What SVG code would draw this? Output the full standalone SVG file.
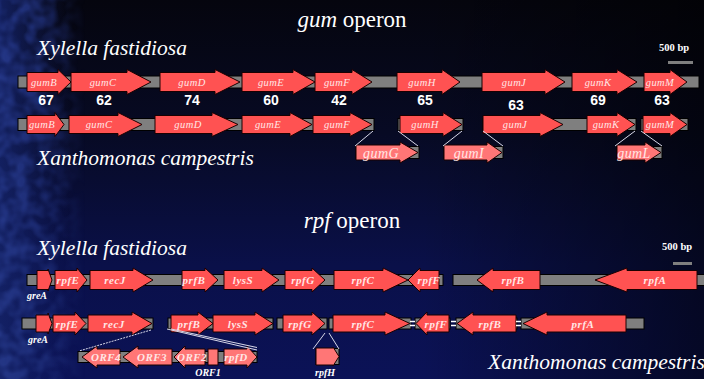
<svg xmlns="http://www.w3.org/2000/svg" width="704" height="379" viewBox="0 0 704 379">
  <defs>
    <linearGradient id="bgV" x1="0" y1="0" x2="0" y2="1">
      <stop offset="0" stop-color="#05050e"/>
      <stop offset="0.35" stop-color="#070a24"/>
      <stop offset="0.7" stop-color="#0a1049"/>
      <stop offset="1" stop-color="#0b1257"/>
    </linearGradient>
    <linearGradient id="bgH" x1="0" y1="0" x2="1" y2="0">
      <stop offset="0" stop-color="#000" stop-opacity="0"/>
      <stop offset="0.6" stop-color="#000" stop-opacity="0"/>
      <stop offset="1" stop-color="#000" stop-opacity="0.55"/>
    </linearGradient>
    <linearGradient id="edgeTint" x1="0" y1="0" x2="1" y2="0">
      <stop offset="0" stop-color="#142266" stop-opacity="0.9"/>
      <stop offset="1" stop-color="#142266" stop-opacity="0"/>
    </linearGradient>
    <linearGradient id="edgeFade" x1="0" y1="0" x2="1" y2="0">
      <stop offset="0" stop-color="#fff" stop-opacity="1"/>
      <stop offset="0.5" stop-color="#fff" stop-opacity="0.65"/>
      <stop offset="1" stop-color="#fff" stop-opacity="0"/>
    </linearGradient>
    <mask id="edgeMask">
      <rect x="0" y="0" width="85" height="379" fill="url(#edgeFade)"/>
    </mask>
    <filter id="grain" x="0" y="0" width="1" height="1" color-interpolation-filters="sRGB">
      <feTurbulence type="fractalNoise" baseFrequency="0.07" numOctaves="2" seed="4"/>
      <feColorMatrix type="matrix" values="0 0 0 0 0.14  0 0 0 0 0.21  0 0 0 0 0.52  0 0 0 2.6 -0.85"/>
    </filter>
  </defs>
  <style>
    .gene { fill: #ff5252; stroke: #1a0000; stroke-width: 1; }
    .ins { fill: #ff7676; stroke: #1a0000; stroke-width: 1; }
    .bar { fill: #7f7f7f; stroke: #000; stroke-width: 1; }
    .lbl { font-family: "Liberation Serif", "Times New Roman", serif; font-style: italic; fill: #ffe6e6; text-anchor: middle; }
    .g { font-size: 10.5px; letter-spacing: 0.4px; }
    .gi { font-size: 14px; letter-spacing: 0.4px; }
    .r { font-size: 11px; font-weight: bold; letter-spacing: 0.5px; }
    .num { font-family: "Liberation Sans", Arial, sans-serif; font-weight: bold; font-size: 14px; fill: #fff; text-anchor: middle; }
    .title { font-family: "Liberation Serif", "Times New Roman", serif; font-size: 23px; fill: #fff; text-anchor: middle; }
    .sp { font-family: "Liberation Serif", "Times New Roman", serif; font-style: italic; font-size: 21.5px; fill: #fff; }
    .bp { font-family: "Liberation Serif", "Times New Roman", serif; font-weight: bold; font-size: 10.5px; fill: #fff; }
    .sub { font-family: "Liberation Serif", "Times New Roman", serif; font-style: italic; font-weight: bold; font-size: 10px; fill: #fff; text-anchor: middle; }
    .link { stroke: #d8d8e8; stroke-width: 1; fill: none; }
    .brk { stroke: #fff; stroke-width: 1.5; }
  </style>

  <!-- backdrop -->
  <rect width="704" height="379" fill="url(#bgV)"/>
  <rect width="704" height="379" fill="url(#bgH)"/>
  <rect x="0" y="0" width="70" height="379" fill="url(#edgeTint)"/>
  <rect x="0" y="0" width="85" height="379" filter="url(#grain)" mask="url(#edgeMask)"/>

  <!-- headings -->
  <text class="title" x="352" y="27"><tspan font-style="italic">gum</tspan> operon</text>
  <text class="title" x="352" y="228"><tspan font-style="italic">rpf</tspan> operon</text>
  <text class="sp" x="37" y="55">Xylella fastidiosa</text>
  <text class="sp" x="37" y="165">Xanthomonas campestris</text>
  <text class="sp" x="37" y="255">Xylella fastidiosa</text>
  <text class="sp" x="488" y="369">Xanthomonas campestris</text>

  <!-- scale bars -->
  <g id="scale-gum">
    <text class="bp" x="659" y="51">500 bp</text>
    <rect x="668" y="61" width="25" height="3" fill="#7f7f7f"/>
  </g>
  <g id="scale-rpf">
    <text class="bp" x="662" y="250">500 bp</text>
    <rect x="673" y="262" width="19" height="3" fill="#7f7f7f"/>
  </g>

  <!-- gum: Xylella row -->
  <g id="gum-xf">
    <rect class="bar" x="18" y="76" width="681" height="12"/>
    <g id="xf-gumB"><polygon class="gene" points="27,72.5 58,72.5 58,69.5 71,82 58,94.5 58,91.5 27,91.5"/><text class="lbl g" x="44" y="85.5">gumB</text></g>
    <g id="xf-gumC"><polygon class="gene" points="71,72.5 127,72.5 127,69.5 151,82 127,94.5 127,91.5 71,91.5"/><text class="lbl g" x="103" y="85.5">gumC</text></g>
    <g id="xf-gumD"><polygon class="gene" points="160,72.5 215,72.5 215,69.5 240,82 215,94.5 215,91.5 160,91.5"/><text class="lbl g" x="192" y="85.5">gumD</text></g>
    <g id="xf-gumE"><polygon class="gene" points="242,72.5 293,72.5 293,69.5 315,82 293,94.5 293,91.5 242,91.5"/><text class="lbl g" x="271" y="85.5">gumE</text></g>
    <g id="xf-gumF"><polygon class="gene" points="315,72.5 352,72.5 352,69.5 372,82 352,94.5 352,91.5 315,91.5"/><text class="lbl g" x="337" y="85.5">gumF</text></g>
    <g id="xf-gumH"><polygon class="gene" points="397,72.5 442,72.5 442,69.5 460,82 442,94.5 442,91.5 397,91.5"/><text class="lbl g" x="422" y="85.5">gumH</text></g>
    <g id="xf-gumJ"><polygon class="gene" points="482,72.5 545,72.5 545,69.5 565,82 545,94.5 545,91.5 482,91.5"/><text class="lbl g" x="514" y="85.5">gumJ</text></g>
    <g id="xf-gumK"><polygon class="gene" points="572,72.5 617,72.5 617,69.5 637,82 617,94.5 617,91.5 572,91.5"/><text class="lbl g" x="598" y="85.5">gumK</text></g>
    <g id="xf-gumM"><polygon class="gene" points="644,72.5 670,72.5 670,69.5 687,82 670,94.5 670,91.5 644,91.5"/><text class="lbl g" x="660" y="85.5">gumM</text></g>
  </g>

  <!-- identity values -->
  <g id="identity">
    <text class="num" x="46" y="105">67</text>
    <text class="num" x="104" y="105">62</text>
    <text class="num" x="192" y="105">74</text>
    <text class="num" x="271" y="105">60</text>
    <text class="num" x="339" y="105">42</text>
    <text class="num" x="425" y="105">65</text>
    <text class="num" x="516" y="110">63</text>
    <text class="num" x="598" y="105">69</text>
    <text class="num" x="662" y="105">63</text>
  </g>

  <!-- gum: Xanthomonas row -->
  <g id="gum-xc">
    <rect class="bar" x="18" y="118.5" width="356" height="12"/>
    <rect class="bar" x="398" y="118.5" width="65" height="12"/>
    <rect class="bar" x="483" y="118.5" width="153" height="12"/>
    <rect class="bar" x="641" y="118.5" width="47" height="12"/>
    <g id="xc-gumB"><polygon class="gene" points="27,115.5 55,115.5 55,112.5 64,124.5 55,136.5 55,133.5 27,133.5"/><text class="lbl g" x="42" y="128">gumB</text></g>
    <g id="xc-gumC"><polygon class="gene" points="69,115.5 118,115.5 118,112.5 142,124.5 118,136.5 118,133.5 69,133.5"/><text class="lbl g" x="99" y="128">gumC</text></g>
    <g id="xc-gumD"><polygon class="gene" points="155,115.5 212,115.5 212,112.5 238,124.5 212,136.5 212,133.5 155,133.5"/><text class="lbl g" x="188" y="128">gumD</text></g>
    <g id="xc-gumE"><polygon class="gene" points="242,115.5 290,115.5 290,112.5 312,124.5 290,136.5 290,133.5 242,133.5"/><text class="lbl g" x="268" y="128">gumE</text></g>
    <g id="xc-gumF"><polygon class="gene" points="313,115.5 350,115.5 350,112.5 372,124.5 350,136.5 350,133.5 313,133.5"/><text class="lbl g" x="337" y="128">gumF</text></g>
    <g id="xc-gumH"><polygon class="gene" points="400,115.5 443,115.5 443,112.5 462,124.5 443,136.5 443,133.5 400,133.5"/><text class="lbl g" x="425" y="128">gumH</text></g>
    <g id="xc-gumJ"><polygon class="gene" points="483,115.5 540,115.5 540,112.5 563,124.5 540,136.5 540,133.5 483,133.5"/><text class="lbl g" x="515" y="128">gumJ</text></g>
    <g id="xc-gumK"><polygon class="gene" points="587,115.5 617,115.5 617,112.5 635,124.5 617,136.5 617,133.5 587,133.5"/><text class="lbl g" x="606" y="128">gumK</text></g>
    <g id="xc-gumM"><polygon class="gene" points="643,115.5 670,115.5 670,112.5 687,124.5 670,136.5 670,133.5 643,133.5"/><text class="lbl g" x="660" y="128">gumM</text></g>
  </g>

  <!-- gum: genes present only in Xanthomonas -->
  <g id="gum-inserts">
    <rect class="bar" x="356" y="146.5" width="63" height="12"/>
    <rect class="bar" x="444" y="146.5" width="59" height="12"/>
    <rect class="bar" x="617" y="146.5" width="45" height="12"/>
    <g id="xc-gumG"><polygon class="ins" points="356,145 400,145 400,142 418,152.5 400,163 400,160 356,160"/><text class="lbl gi" x="381" y="157.5">gumG</text></g>
    <g id="xc-gumI"><polygon class="ins" points="444,145 487,145 487,142 502,152.5 487,163 487,160 444,160"/><text class="lbl gi" x="469" y="157.5">gumI</text></g>
    <g id="xc-gumL"><polygon class="ins" points="617,145 645,145 645,142 661,152.5 645,163 645,160 617,160"/><text class="lbl gi" x="634" y="157.5">gumL</text></g>
  </g>

  <!-- rpf: Xylella row -->
  <g id="rpf-xf">
    <rect class="bar" x="27" y="274.5" width="416" height="11"/>
    <rect class="bar" x="453" y="274.5" width="252" height="11"/>
    <g id="xf-greA"><polygon class="gene" points="37,270.5 48,270.5 48,269 52,280 48,291 48,289.5 37,289.5"/><text class="sub" x="37" y="299">greA</text></g>
    <g id="xf-rpfE"><polygon class="gene" points="55,270.5 77,270.5 77,268 87,280 77,292 77,289.5 55,289.5"/><text class="lbl r" x="68" y="284">rpfE</text></g>
    <g id="xf-recJ"><polygon class="gene" points="90,270.5 133,270.5 133,268 153,280 133,292 133,289.5 90,289.5"/><text class="lbl r" x="115" y="284">recJ</text></g>
    <g id="xf-prfB"><polygon class="gene" points="182,270.5 205,270.5 205,268 218,280 205,292 205,289.5 182,289.5"/><text class="lbl r" x="194" y="284">prfB</text></g>
    <g id="xf-lysS"><polygon class="gene" points="224,270.5 262,270.5 262,268 279,280 262,292 262,289.5 224,289.5"/><text class="lbl r" x="243" y="284">lysS</text></g>
    <g id="xf-rpfG"><polygon class="gene" points="285,270.5 312,270.5 312,268 325,280 312,292 312,289.5 285,289.5"/><text class="lbl r" x="303" y="284">rpfG</text></g>
    <g id="xf-rpfC"><polygon class="gene" points="334,270.5 383,270.5 383,268 408,280 383,292 383,289.5 334,289.5"/><text class="lbl r" x="363" y="284">rpfC</text></g>
    <g id="xf-rpfF"><polygon class="gene" points="439,270.5 420,270.5 420,268 408,280 420,292 420,289.5 439,289.5"/><text class="lbl r" x="429" y="284">rpfF</text></g>
    <g id="xf-rpfB"><polygon class="gene" points="540,270.5 493,270.5 493,268 477,280 493,292 493,289.5 540,289.5"/><text class="lbl r" x="513" y="284">rpfB</text></g>
    <g id="xf-rpfA"><polygon class="gene" points="697,270.5 627,270.5 627,268 595,280 627,292 627,289.5 697,289.5"/><text class="lbl r" x="655" y="284">rpfA</text></g>
  </g>

  <!-- rpf: Xanthomonas row -->
  <g id="rpf-xc">
    <rect class="bar" x="22" y="318" width="131" height="11"/>
    <rect class="bar" x="168" y="318" width="105" height="11"/>
    <rect class="bar" x="277" y="318" width="50" height="11"/>
    <rect class="bar" x="329" y="318" width="82" height="11"/>
    <rect class="bar" x="415" y="318" width="35" height="11"/>
    <rect class="bar" x="456" y="318" width="61" height="11"/>
    <rect class="bar" x="521" y="318" width="123" height="11"/>
    <g id="xc-greA"><polygon class="gene" points="36,315 48,315 48,313 52,323.5 48,334 48,332 36,332"/><text class="sub" x="38" y="343">greA</text></g>
    <g id="xc-rpfE"><polygon class="gene" points="53,315 75,315 75,312 86,323.5 75,335 75,332 53,332"/><text class="lbl r" x="67" y="327.5">rpfE</text></g>
    <g id="xc-recJ"><polygon class="gene" points="88,315 132,315 132,312 152,323.5 132,335 132,332 88,332"/><text class="lbl r" x="114" y="327.5">recJ</text></g>
    <g id="xc-prfB"><polygon class="gene" points="171,315 198,315 198,312 213,323.5 198,335 198,332 171,332"/><text class="lbl r" x="189" y="327.5">prfB</text></g>
    <g id="xc-lysS"><polygon class="gene" points="213,315 255,315 255,312 273,323.5 255,335 255,332 213,332"/><text class="lbl r" x="238" y="327.5">lysS</text></g>
    <g id="xc-rpfG"><polygon class="gene" points="283,315 312,315 312,312 325,323.5 312,335 312,332 283,332"/><text class="lbl r" x="300" y="327.5">rpfG</text></g>
    <g id="xc-rpfC"><polygon class="gene" points="333,315 385,315 385,312 410,323.5 385,335 385,332 333,332"/><text class="lbl r" x="363" y="327.5">rpfC</text></g>
    <g id="xc-rpfF"><polygon class="gene" points="449,315 427,315 427,312 416,323.5 427,335 427,332 449,332"/><text class="lbl r" x="436" y="327.5">rpfF</text></g>
    <g id="xc-rpfB"><polygon class="gene" points="516,315 473,315 473,312 457,323.5 473,335 473,332 516,332"/><text class="lbl r" x="490" y="327.5">rpfB</text></g>
    <g id="xc-prfA"><polygon class="gene" points="626,315 547,315 547,312 523,323.5 547,335 547,332 626,332"/><text class="lbl r" x="583" y="327.5">prfA</text></g>
  </g>

  <!-- rpf: genes present only in Xanthomonas -->
  <g id="rpf-inserts">
    <rect class="bar" x="78" y="351.5" width="179" height="11"/>
    <rect class="bar" x="316" y="348.5" width="23" height="16"/>
    <g id="xc-ORF4"><polygon class="ins" points="120,349 97,349 97,346 82,357 97,368 97,365 120,365"/><text class="lbl r" x="106" y="361">ORF4</text></g>
    <g id="xc-ORF3"><polygon class="ins" points="172,349 138,349 138,346 123,357 138,368 138,365 172,365"/><text class="lbl r" x="152" y="361">ORF3</text></g>
    <g id="xc-ORF2"><polygon class="ins" points="205,349 185,349 185,346 174,357 185,368 185,365 205,365"/><text class="lbl r" x="192" y="361">ORF2</text></g>
    <g id="xc-ORF1"><rect class="ins" x="208" y="349" width="10" height="16"/><text class="sub" x="208" y="376">ORF1</text></g>
    <g id="xc-rpfD"><polygon class="ins" points="224,349 247,349 247,346 257,357 247,368 247,365 224,365"/><text class="lbl r" x="236" y="361">rpfD</text></g>
    <g id="xc-rpfH"><polygon class="ins" points="316,348 333,348 333,347 339,356.5 333,366 333,365 316,365"/><text class="sub" x="325" y="376">rpfH</text></g>
  </g>

  <!-- connectors: insertion guides and break marks -->
  <g id="connectors">
    <line class="link" x1="373" y1="131" x2="355" y2="146"/>
    <line class="link" x1="398" y1="131" x2="418" y2="146"/>
    <line class="link" x1="462" y1="131" x2="443" y2="146"/>
    <line class="link" x1="483" y1="131" x2="503" y2="146"/>
    <line class="link" x1="635" y1="131" x2="615" y2="146"/>
    <line class="link" x1="641" y1="131" x2="662" y2="146"/>
    <line class="link" x1="151" y1="330" x2="79" y2="351" stroke-dasharray="2 1"/>
    <line class="link" x1="167" y1="329" x2="257" y2="350"/>
    <line class="link" x1="171" y1="329" x2="257" y2="347.5"/>
    <line class="link" x1="325" y1="333" x2="313" y2="349"/>
    <line class="link" x1="329" y1="333" x2="339" y2="349"/>
    <line class="brk" x1="410" y1="321.5" x2="415" y2="321.5"/>
    <line class="brk" x1="410" y1="325.5" x2="415" y2="325.5"/>
    <line class="brk" x1="451" y1="321.5" x2="456" y2="321.5"/>
    <line class="brk" x1="451" y1="325.5" x2="456" y2="325.5"/>
    <line class="brk" x1="516" y1="321.5" x2="521" y2="321.5"/>
    <line class="brk" x1="516" y1="325.5" x2="521" y2="325.5"/>
  </g>
</svg>
